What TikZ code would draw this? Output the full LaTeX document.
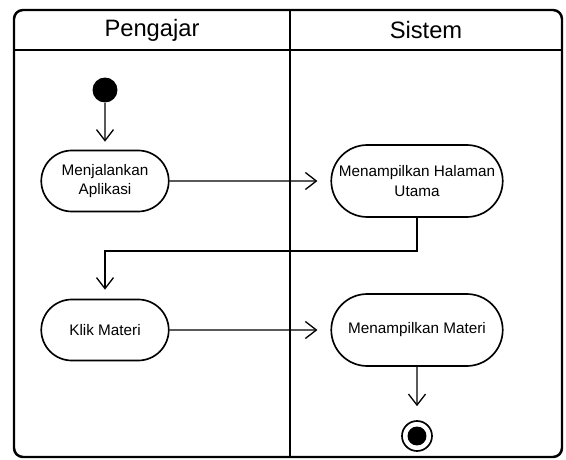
\documentclass[tikz,border=0pt]{standalone}
\usepackage{fontspec}
\setmainfont{Liberation Sans}
\usetikzlibrary{arrows.meta,shapes.misc}

\begin{document}
\begin{tikzpicture}[x=0.02cm,y=-0.02cm,
    >={Straight Barb[length=2.2mm,width=3.4mm]},
    aktivitas/.style={draw,line width=0.95pt,rounded rectangle,align=center,inner sep=1pt,
        font=\fontsize{8.7}{11.3}\selectfont},
    alur/.style={->,line width=0.75pt}]
            \useasboundingbox (0,0) rectangle (566,460);
            % partisi
            \draw[line width=1.4pt,rounded corners=0.18cm] (14,10) rectangle (562,457);
            \draw[line width=1.4pt] (14,50)--(562,50);
            \draw[line width=1.4pt] (290,10)--(290,457);
            \node (pengajar) at (152,30) {\fontsize{13.5}{15}\selectfont Pengajar};
            \node (sistem) at (426,30) {\fontsize{13.5}{15}\selectfont Sistem};
            % aktivitas
            \node[circle,fill=black,inner sep=0pt,minimum size=0.5cm] (mulai) at (105,90) {};
            \node[aktivitas,minimum width=2.62cm,minimum height=1.22cm] (jalan) at (105,181) {Menjalankan\\Aplikasi};
            \node[aktivitas,minimum width=3.5cm,minimum height=1.44cm] (halaman) at (417,181) {Menampilkan Halaman\\Utama};
            \node[aktivitas,minimum width=2.62cm,minimum height=1.22cm] (klik) at (105,330) {Klik Materi};
            \node[aktivitas,minimum width=3.5cm,minimum height=1.44cm] (materi) at (417,330) {Menampilkan Materi};
            \node[circle,draw,line width=0.95pt,inner sep=0pt,minimum size=0.6cm] (akhir) at (417,436) {};
            \node[circle,fill=black,inner sep=0pt,minimum size=0.38cm] (akhirdalam) at (akhir) {};
            \coordinate (belok) at (417,251);
            % alur
            \draw[alur,shorten >=0.16cm] (mulai) -- (jalan);
            \draw[alur,shorten >=0.26cm] (jalan) -- (halaman);
            \draw[alur,shorten >=0.18cm] (halaman.south) -- (belok) -| (klik.north);
            \draw[alur,shorten >=0.26cm] (klik) -- (materi);
            \draw[alur,shorten >=0.28cm] (materi) -- (akhir);
        \end{tikzpicture}
\end{document}
